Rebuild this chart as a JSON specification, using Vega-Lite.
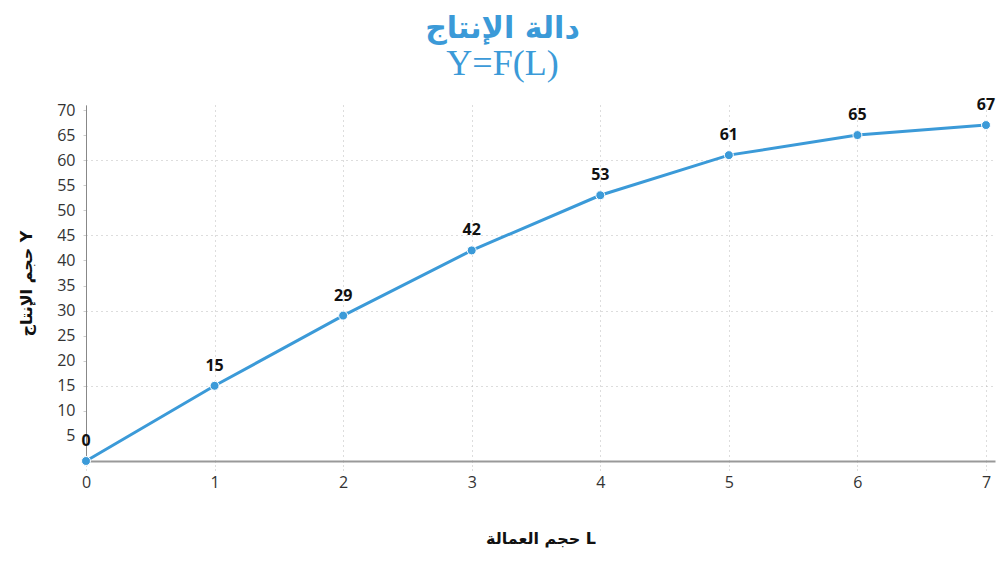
{
  "$schema": "https://vega.github.io/schema/vega-lite/v6.json",
  "autosize": "none",
  "width": 909,
  "height": 356,
  "padding": {"left": 86, "top": 105, "right": 5, "bottom": 107},
  "background": "white",
  "config": {"view": {"stroke": null}},
  "title": {
    "text": "دالة الإنتاج",
    "subtitle": "Y=F(L)",
    "anchor": "middle",
    "frame": "group",
    "dx": -38,
    "offset": 15,
    "font": "DejaVu Sans",
    "fontSize": 30,
    "fontWeight": "bold",
    "color": "#3b9ad8",
    "subtitleFont": "Liberation Serif",
    "subtitleFontSize": 36,
    "subtitleColor": "#3b9ad8",
    "subtitlePadding": 3
  },
  "data": {
    "values": [
      {"L": 0, "Y": 0},
      {"L": 1, "Y": 15},
      {"L": 2, "Y": 29},
      {"L": 3, "Y": 42},
      {"L": 4, "Y": 53},
      {"L": 5, "Y": 61},
      {"L": 6, "Y": 65},
      {"L": 7, "Y": 67}
    ]
  },
  "encoding": {
    "x": {
      "field": "L",
      "type": "quantitative",
      "scale": {"domain": [0, 7.07], "nice": false, "zero": false},
      "axis": {
        "values": [0, 1, 2, 3, 4, 5, 6, 7],
        "title": "حجم العمالة L",
        "titleFont": "DejaVu Sans",
        "titleFontSize": 16,
        "titleFontWeight": "bold",
        "titleColor": "#111",
        "titlePadding": 40,
        "labelFont": "Open Sans",
        "labelFontSize": 16,
        "labelColor": "#333",
        "labelPadding": 4,
        "labelFlush": false,
        "domainColor": "#999",
        "domainWidth": 2,
        "tickColor": "#bbb",
        "tickDash": [1, 3],
        "tickSize": 9,
        "grid": true,
        "gridColor": "#bbb",
        "gridDash": [1, 4],
        "gridWidth": 1
      }
    },
    "y": {
      "field": "Y",
      "type": "quantitative",
      "scale": {"domain": [0, 71], "nice": false},
      "axis": null
    }
  },
  "layer": [
    {
      "mark": {"type": "line", "color": "#3b9ad8", "strokeWidth": 3},
      "encoding": {
        "y": {
          "field": "Y",
          "type": "quantitative",
          "axis": {
            "orient": "left",
            "values": [15, 30, 45, 60],
            "grid": true,
            "gridColor": "#bbb",
            "gridDash": [1, 4],
            "labels": false,
            "ticks": false,
            "domain": false,
            "title": null
          }
        }
      }
    },
    {
      "mark": {"type": "point", "filled": true, "color": "#3b9ad8", "size": 80, "opacity": 1, "stroke": "white", "strokeWidth": 1},
      "encoding": {
        "y": {
          "field": "Y",
          "type": "quantitative",
          "axis": {
            "orient": "left",
            "values": [5, 10, 15, 20, 25, 30, 35, 40, 45, 50, 55, 60, 65, 70],
            "grid": false,
            "title": "حجم الإنتاج Y",
            "titleFont": "DejaVu Sans",
            "titleFontSize": 16,
            "titleFontWeight": "bold",
            "titleColor": "#111",
            "titlePadding": 22,
            "labelFont": "Open Sans",
            "labelFontSize": 16,
            "labelColor": "#333",
            "labelPadding": 8,
            "domainColor": "#888",
            "domainWidth": 1,
            "tickColor": "#ccc",
            "tickSize": 3
          }
        }
      }
    },
    {
      "mark": {"type": "text", "baseline": "bottom", "dy": -12, "font": "Open Sans", "fontSize": 16, "fontWeight": "bold", "color": "#111"},
      "encoding": {"text": {"field": "Y", "type": "quantitative"}}
    }
  ],
  "resolve": {"axis": {"y": "independent"}}
}
